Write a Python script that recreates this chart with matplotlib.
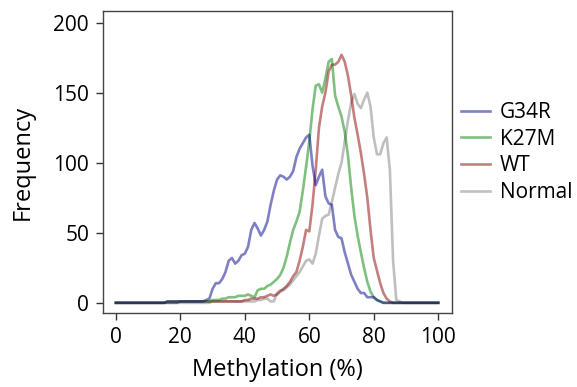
import numpy as np
import matplotlib
matplotlib.use('Agg')
import matplotlib.pyplot as plt

## methylation frequency per 1% bin
methylation = np.arange(0, 101)

g34r = [0]*16 + [1]*12 + [2, 3, 10, 14, 14, 17, 22, 30, 32, 28, 30, 34, 35,
        40, 52, 57, 53, 48, 52, 58, 70, 80, 88, 91, 90, 88, 90, 94, 104, 110,
        114, 118, 120, 98, 84, 90, 95, 76, 71, 70, 52, 47, 46, 36, 28, 20, 15,
        10, 7, 7, 4, 4, 4, 2, 1] + [0]*18

k27m = [0]*16 + [1]*14 + [2, 2, 2, 3, 3, 4, 4, 4, 5, 5, 5, 6, 5, 4, 9, 10,
        10, 12, 13, 15, 17, 20, 25, 33, 43, 52, 58, 65, 80, 97, 115, 138, 155,
        156, 150, 160, 172, 174, 148, 140, 133, 122, 105, 82, 62, 48, 36, 25,
        15, 8, 4, 2, 1] + [0]*18

wt = [0]*20 + [1]*20 + [2, 2, 3, 3, 3, 4, 4, 5, 6, 5, 6, 8, 10, 12, 15, 19,
      22, 30, 40, 52, 51, 70, 95, 125, 140, 150, 165, 170, 170, 172, 177, 172,
      162, 148, 132, 120, 107, 92, 75, 52, 32, 23, 14, 7, 3, 1] + [0]*15

normal = [0]*30 + [1]*14 + [2, 2, 3, 3, 1, 1, 7, 9, 9, 11, 13, 16, 19, 22, 26,
          30, 31, 28, 35, 48, 60, 62, 63, 72, 82, 92, 100, 115, 130, 143, 149,
          142, 139, 145, 150, 140, 118, 106, 106, 114, 118, 95, 30, 2, 1] + [0]*12

labels = ['G34R', 'K27M', 'WT', 'Normal']
series = [g34r, k27m, wt, normal]
colors = ['darkblue', 'green', 'darkred', 'gray']

plt.rcParams['font.family'] = ['Open Sans', 'DejaVu Sans']

fig = plt.figure(figsize=(5.77, 3.87), dpi=100)
ax = fig.add_axes([0.1785, 0.19, 0.605, 0.782])

lines = {}
# draw Normal first so G34R ends up on top
for lab, vals, col in reversed(list(zip(labels, series, colors))):
    ln, = ax.plot(methylation, vals, color=col, alpha=0.5, lw=1.9)
    lines[lab] = ln

ax.set_xlim(-4, 104.3)
ax.set_ylim(-7.6, 208.4)
ax.set_xticks([0, 20, 40, 60, 80, 100])
ax.set_yticks([0, 50, 100, 150, 200])
ax.tick_params(direction='out', length=5, width=1, pad=5, labelsize=15, color='#333333')
for s in ax.spines.values():
    s.set_color('#444444')
    s.set_linewidth(1)

ax.set_xlabel('Methylation (%)', fontsize=17, labelpad=7)
ax.set_ylabel('Frequency', fontsize=17, labelpad=13)

ax.legend([lines[l] for l in labels], labels, loc='center left',
          bbox_to_anchor=(0.799, 0.606), bbox_transform=fig.transFigure,
          frameon=False, fontsize=15, borderaxespad=0, borderpad=0,
          handlelength=1.4, handletextpad=0.45, labelspacing=0.27)

fig.savefig('out.png', dpi=100)
